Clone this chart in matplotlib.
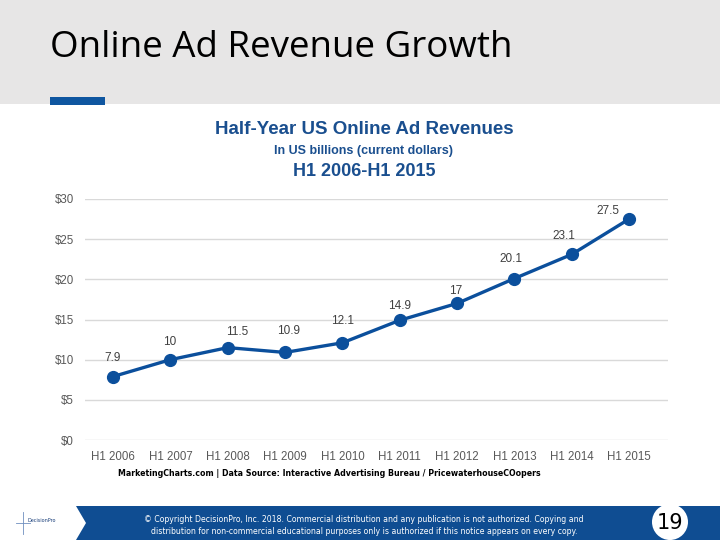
import numpy as np
import matplotlib.pyplot as plt
from matplotlib.patches import Rectangle, Polygon, Circle

# data
periods = ['H1 2006', 'H1 2007', 'H1 2008', 'H1 2009', 'H1 2010',
           'H1 2011', 'H1 2012', 'H1 2013', 'H1 2014', 'H1 2015']
revenue = [7.9, 10, 11.5, 10.9, 12.1, 14.9, 17, 20.1, 23.1, 27.5]
ytick_vals = [0, 5, 10, 15, 20, 25, 30]
ytick_labels = ['$0', '$5', '$10', '$15', '$20', '$25', '$30']

# label offsets (pixels, right/up) as drawn in the source chart
label_offsets = [(-1, 19), (-1, 18), (9, 16), (3, 21), (0, 22),
                 (0, 14), (-1, 12), (-3, 20), (-8, 18), (-21, 8)]

line_col = '#0b4f9c'
text_blue = '#1a4f8f'

fig = plt.figure(figsize=(7.2, 5.4), dpi=100)

# slide background in pixel coords
bg = fig.add_axes([0, 0, 1, 1], zorder=0)
bg.set_xlim(0, 720)
bg.set_ylim(540, 0)
bg.axis('off')
bg.add_patch(Rectangle((0, 0), 720, 104, color='#e7e6e6', lw=0))
bg.add_patch(Rectangle((50, 97), 55, 8, color='#0f56a0', lw=0))
bg.text(50, 48, 'Online Ad Revenue Growth', fontsize=26.5, family='Open Sans',
        va='center', ha='left', color='black')

bg.text(364, 130, 'Half-Year US Online Ad Revenues', fontsize=13.5, weight='bold',
        family='Liberation Sans', color=text_blue, ha='center', va='center')
bg.text(364, 151, 'In US billions (current dollars)', fontsize=9, weight='bold',
        family='Liberation Sans', color=text_blue, ha='center', va='center')
bg.text(364, 171, 'H1 2006-H1 2015', fontsize=13, weight='bold',
        family='Liberation Sans', color=text_blue, ha='center', va='center')
bg.text(118, 474, 'MarketingCharts.com | Data Source: Interactive Advertising Bureau / PricewaterhouseCOopers',
        fontsize=5.7, weight='bold', family='DejaVu Sans',
        ha='left', va='center', color='black')

# footer
bg.add_patch(Rectangle((0, 506), 720, 34, color='#0f4d92', lw=0))
bg.add_patch(Polygon([(0, 506), (76, 506), (86, 523), (76, 540), (0, 540)],
                     closed=True, color='white', lw=0))
bg.plot([16, 30], [523, 523], color='#6f8fbf', lw=0.6)
bg.plot([23, 23], [512, 534], color='#6f8fbf', lw=0.6)
bg.text(27, 521, 'DecisionPro', fontsize=3.5, color='#1a3f7a', va='center')
bg.text(364, 520, '© Copyright DecisionPro, Inc. 2018. Commercial distribution and any publication is not authorized. Copying and',
        fontsize=5.6, color='white', ha='center', va='center')
bg.text(364, 531, 'distribution for non-commercial educational purposes only is authorized if this notice appears on every copy.',
        fontsize=5.6, color='white', ha='center', va='center')
bg.add_patch(Circle((670, 522), 18, color='white', lw=0))
bg.text(670, 523, '19', fontsize=15, ha='center', va='center', color='black')

# chart
ax = fig.add_axes([85 / 720, 1 - 440 / 540, 583 / 720, 241 / 540], zorder=1)
ax.patch.set_alpha(0)
x = np.arange(len(periods))
ax.plot(x, revenue, color=line_col, lw=2.4, marker='o', ms=8.5,
        markerfacecolor=line_col, markeredgecolor=line_col, clip_on=False, zorder=3)
for xi, v, (dx, dy) in zip(x, revenue, label_offsets):
    ax.annotate(f'{v:g}', (xi, v), xytext=(dx * 0.72, dy * 0.72),
                textcoords='offset points', ha='center', va='center',
                fontsize=8.5, color='#404040', family='Liberation Sans')

ax.set_xlim(-0.49, 9.68)
ax.set_ylim(0, 30)
ax.set_yticks(ytick_vals)
ax.set_yticklabels(ytick_labels)
ax.set_xticks(x)
ax.set_xticklabels(periods)
ax.grid(axis='y', color='#d9d9d9', lw=1)
ax.set_axisbelow(True)
for s in ax.spines.values():
    s.set_visible(False)
ax.tick_params(length=0, labelsize=8.3, labelcolor='#595959', pad=8)
for lab in ax.get_xticklabels() + ax.get_yticklabels():
    lab.set_family('Liberation Sans')

fig.savefig('out.png', dpi=100)
